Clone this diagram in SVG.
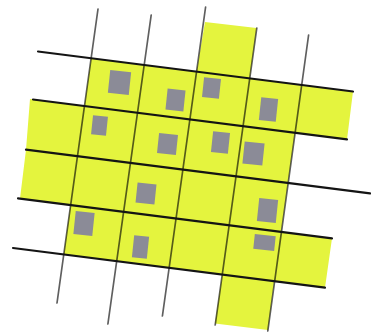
<svg xmlns="http://www.w3.org/2000/svg" width="371" height="332" viewBox="0 0 371 332">
  <style>
    .vline { stroke: #5f5f5f; stroke-width: 1.7; stroke-linecap: round; fill: none; }
    .hline { stroke: #141414; stroke-width: 2.2; stroke-linecap: round; fill: none; }
    .cells { fill: #e4f43e; mix-blend-mode: multiply; }
    .block { fill: #8b8b97; }
  </style>
  <rect width="371" height="332" fill="#ffffff"/>
  <g id="grid-vertical">
    <line class="vline" x1="98" y1="9" x2="57" y2="303"/>
    <line class="vline" x1="151.2" y1="15" x2="107.9" y2="324"/>
    <line class="vline" x1="205.6" y1="7" x2="162.4" y2="316"/>
    <line class="vline" x1="256.8" y1="28" x2="215.2" y2="325"/>
    <line class="vline" x1="308.6" y1="35" x2="267.8" y2="331"/>
  </g>
  <g id="cells">
    <polygon class="cells" points="205,22 256.5,28 249.7,78.4 353,91.5 347,139.4 294.9,132.8 281.1,231.8 332,238.3 325,287.7 274.1,281.2 268,330 215,323.5 222.3,274.6 63.7,254.5 70.6,205.1 20,198.6 26,149.7 30,99.1 84.5,106 91.1,58.3 196.6,71.7"/>
  </g>
  <g id="grid-horizontal">
    <line class="hline" x1="38" y1="51.5" x2="353" y2="91.5"/>
    <line class="hline" x1="33" y1="99.5" x2="347" y2="139.4"/>
    <line class="hline" x1="26" y1="149.7" x2="370" y2="193.4"/>
    <line class="hline" x1="18" y1="198.4" x2="332" y2="238.3"/>
    <line class="hline" x1="13" y1="248" x2="325" y2="287.7"/>
  </g>
  <g id="blocks">
    <rect class="block" x="-10.5" y="-11.5" width="21" height="23" transform="translate(119.5 82.5) rotate(6)"/>
    <rect class="block" x="-9" y="-10.5" width="18" height="21" transform="translate(175.5 100) rotate(6)"/>
    <rect class="block" x="-8.5" y="-10" width="17" height="20" transform="translate(211.5 88) rotate(6)"/>
    <rect class="block" x="-8.5" y="-11.5" width="17" height="23" transform="translate(268.5 109.5) rotate(6)"/>
    <rect class="block" x="-7.5" y="-9.5" width="15" height="19" transform="translate(99.5 125.5) rotate(6)"/>
    <rect class="block" x="-9.5" y="-10" width="19" height="20" transform="translate(167.5 144) rotate(6)"/>
    <rect class="block" x="-8.5" y="-10.5" width="17" height="21" transform="translate(220.5 142.5) rotate(6)"/>
    <rect class="block" x="-10" y="-11" width="20" height="22" transform="translate(253.5 153.5) rotate(6)"/>
    <rect class="block" x="-9.5" y="-10" width="19" height="20" transform="translate(146 193.5) rotate(6)"/>
    <rect class="block" x="-9.5" y="-11.5" width="19" height="23" transform="translate(267.5 210.5) rotate(6)"/>
    <rect class="block" x="-9.5" y="-11.5" width="19" height="23" transform="translate(84 223.5) rotate(6)"/>
    <rect class="block" x="-7.5" y="-11" width="15" height="22" transform="translate(140.5 247) rotate(6)"/>
    <rect class="block" x="-10.5" y="-7.5" width="21" height="15" transform="translate(264.5 242.5) rotate(6)"/>
  </g>
</svg>
